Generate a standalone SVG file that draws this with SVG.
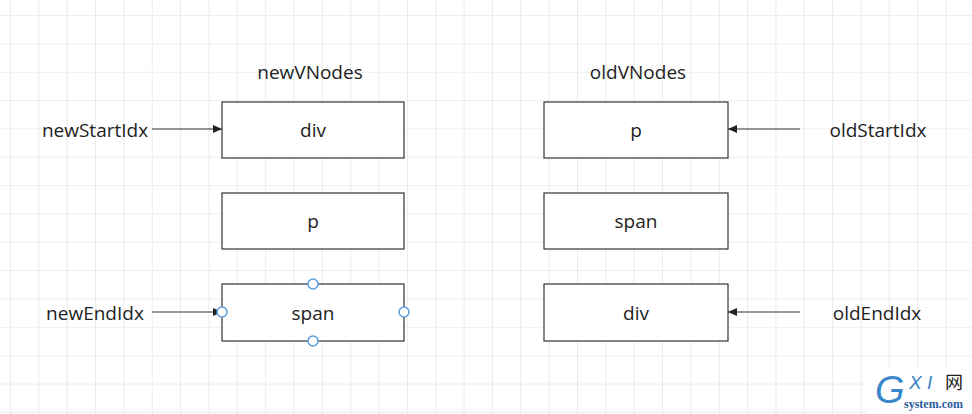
<svg xmlns="http://www.w3.org/2000/svg" width="972" height="414" viewBox="0 0 972 414">
<defs>
<pattern id="grid" x="10" y="15" width="28.35" height="28.35" patternUnits="userSpaceOnUse">
<path d="M0 0V28.35M0 0H28.35" fill="none" stroke="#dedede" stroke-width="1.2"/>
</pattern>
<marker id="ah" markerWidth="10" markerHeight="10" refX="9" refY="5" orient="auto" markerUnits="userSpaceOnUse">
<path d="M0 1L9 5L0 9Z" fill="#222"/>
</marker>
<style>
.box{fill:#fff;stroke:#333;stroke-width:1.2}
.t{font-family:"Open Sans","Noto Sans","Liberation Sans",sans-serif;font-size:19px;fill:#222;text-anchor:middle;dominant-baseline:central}
.ln{stroke:#333;stroke-width:1.2;fill:none;marker-end:url(#ah)}
.h{fill:#fff;stroke:#5a9fe0;stroke-width:1.5}
</style>
</defs>
<rect width="972" height="414" fill="#fff"/>
<rect width="972" height="414" fill="url(#grid)"/>
<text class="t" x="310" y="72">newVNodes</text>
<text class="t" x="638" y="72">oldVNodes</text>
<g id="connectors">
<line class="ln" x1="152" y1="129" x2="222" y2="129"/>
<line class="ln" x1="152" y1="312" x2="222" y2="312"/>
<line class="ln" x1="800" y1="129" x2="728" y2="129"/>
<line class="ln" x1="800" y1="312" x2="728" y2="312"/>
</g>
<g id="newStartIdx"><text class="t" x="95" y="130">newStartIdx</text></g>
<g id="newEndIdx"><text class="t" x="95" y="313">newEndIdx</text></g>
<g id="oldStartIdx"><text class="t" x="878" y="130">oldStartIdx</text></g>
<g id="oldEndIdx"><text class="t" x="877" y="313">oldEndIdx</text></g>
<g id="new-div"><rect class="box" x="222" y="102" width="182" height="56"/><text class="t" x="313" y="130">div</text></g>
<g id="new-p"><rect class="box" x="222" y="193" width="182" height="56"/><text class="t" x="313" y="221">p</text></g>
<g id="new-span"><rect class="box" x="222" y="284" width="182" height="57"/><text class="t" x="313" y="313">span</text>
<circle class="h" cx="313" cy="284" r="5"/><circle class="h" cx="222" cy="312" r="5"/><circle class="h" cx="404" cy="312" r="5"/><circle class="h" cx="313" cy="341" r="5"/></g>
<g id="old-p"><rect class="box" x="544" y="102" width="184" height="56"/><text class="t" x="636" y="130">p</text></g>
<g id="old-span"><rect class="box" x="544" y="193" width="184" height="56"/><text class="t" x="636" y="221">span</text></g>
<g id="old-div"><rect class="box" x="544" y="284" width="184" height="57"/><text class="t" x="636" y="313">div</text></g>
<g id="watermark">
<rect x="868" y="368" width="104" height="46" fill="#fff"/>
<text x="875" y="403" font-family="Liberation Sans,sans-serif" font-size="38" font-style="italic" fill="#3a86c8">G</text>
<text x="909" y="389" font-family="Liberation Sans,sans-serif" font-size="19" font-style="italic" fill="#3a86c8">X I</text>
<text x="945" y="389" font-family="Noto Sans CJK SC,sans-serif" font-size="18" fill="#222">网</text>
<text x="904" y="408" font-family="Liberation Serif,serif" font-size="12" font-weight="bold" fill="#2a5a9a">system.com</text>
</g>
</svg>
